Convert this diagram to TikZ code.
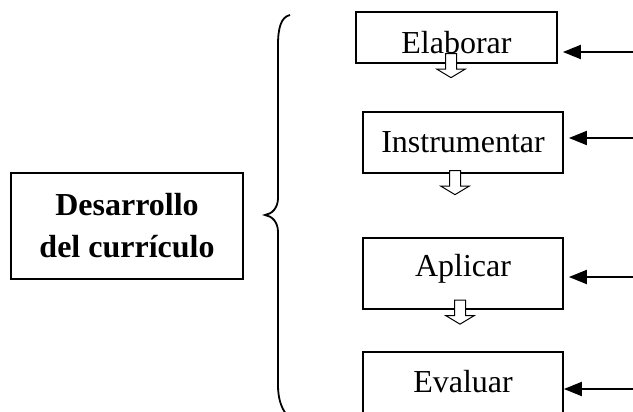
\documentclass[tikz,border=0pt]{standalone}
\usepackage{fontspec}
\setmainfont{Liberation Serif}
\usetikzlibrary{arrows.meta,shapes.arrows}

\begin{document}
\begin{tikzpicture}[x=0.5pt, y=-0.5pt,
    stage/.style={draw, line width=0.9pt, minimum width=100pt, inner sep=0pt,
        font=\fontsize{16}{21}\selectfont},
    feed/.style={-{Triangle[length=9pt,width=7pt]}, line width=1pt},
    flow/.style={single arrow, draw, line width=0.5pt, shape border rotate=270,
        minimum height=12pt, single arrow head extend=4.25pt, inner sep=2.5pt,
        single arrow tip angle=118, single arrow head indent=0pt, fill=white}]
    \useasboundingbox (0, 0) rectangle (633, 412);

    \node[stage, minimum width=116pt, minimum height=53pt, align=center,
        font=\fontsize{16}{21}\selectfont\bfseries] (desarrollo) at (127, 226)
        {Desarrollo\\del currículo};

    \node[stage, minimum width=100.5pt, minimum height=25.5pt] (elaborar) at (456.5, 37.5)
        {\raisebox{-2.5pt}[\height][\depth]{Elaborar}};
    \node[stage, minimum height=30.5pt] (instrumentar) at (463, 142.5) {Instrumentar};
    \node[stage, minimum height=35.5pt] (aplicar) at (463, 273.5)
        {\raisebox{2.5pt}[\height][\depth]{Aplicar}};
    \node[stage, minimum height=35pt] (evaluar) at (463, 387)
        {\raisebox{2.5pt}[\height][\depth]{Evaluar}};

    % llave
    \draw[line width=0.9pt] (290, 15) .. controls (281, 17) and (278, 28) .. (278, 45)
        -- (278, 198) .. controls (278, 208) and (272, 214) .. (265, 215)
        .. controls (272, 216) and (278, 222) .. (278, 232)
        -- (278, 385) .. controls (278, 398) and (281, 407) .. (286, 414);

    \node[flow] (f1) at (451, 64) {};
    \node[flow] (f2) at (455, 181) {};
    \node[flow] (f3) at (460, 310.5) {};

    \coordinate (in1) at (633, 52);
    \coordinate (in2) at (633, 138);
    \coordinate (in3) at (633, 277);
    \coordinate (in4) at (633, 389);
    \draw[feed, shorten >=2.5pt] (in1) -- (in1 -| elaborar.east);
    \draw[feed, shorten >=2.5pt] (in2) -- (in2 -| instrumentar.east);
    \draw[feed, shorten >=2.5pt] (in3) -- (in3 -| aplicar.east);
    \draw[feed] (in4) -- (in4 -| evaluar.east);
\end{tikzpicture}
\end{document}
